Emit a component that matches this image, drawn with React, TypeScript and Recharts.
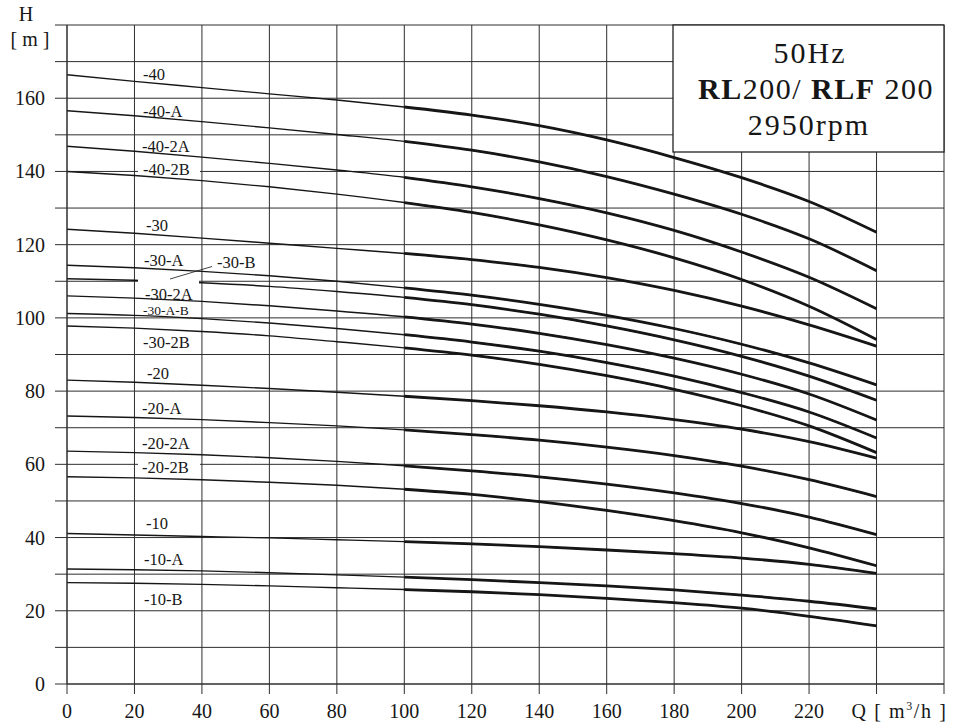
import React from "react";
import { LineChart, Line, XAxis, YAxis, CartesianGrid } from "recharts";

// flow Q [m3/h] and head H [m]
const flow = [0, 20, 40, 60, 80, 100, 120, 140, 160, 180, 200, 220, 240];

const h40 = [166.4, 164.6, 162.9, 161.2, 159.5, 157.6, 155.4, 152.5, 148.6, 143.8, 138.3, 131.8, 123.4];
const h40A = [156.6, 155.2, 153.6, 151.9, 150.1, 148.2, 145.8, 142.6, 138.6, 133.8, 128.3, 121.6, 112.9];
const h40_2A = [146.9, 145.5, 143.9, 142.2, 140.4, 138.4, 135.8, 132.6, 128.7, 123.9, 118.0, 111.1, 102.5];
const h40_2B = [140.0, 138.9, 137.5, 135.8, 133.8, 131.5, 128.8, 125.4, 121.3, 116.4, 110.5, 103.2, 94.1];
const h30 = [124.2, 123.1, 121.8, 120.4, 119.0, 117.6, 115.9, 113.8, 111.0, 107.5, 103.2, 98.1, 92.3];
const h30A = [114.4, 113.7, 112.7, 111.5, 110.0, 108.2, 106.2, 103.7, 100.7, 97.1, 92.8, 87.7, 81.7];
const h30B = [110.7, 110.3, 109.6, 108.6, 107.2, 105.6, 103.6, 101.0, 97.8, 94.0, 89.5, 84.1, 77.5];
const h30_2A = [106.0, 105.4, 104.5, 103.3, 101.9, 100.3, 98.3, 95.8, 92.7, 89.0, 84.6, 79.2, 72.1];
const h30AB = [101.2, 100.7, 99.8, 98.6, 97.1, 95.4, 93.4, 90.9, 87.8, 84.1, 79.6, 74.3, 67.2];
const h30_2B = [97.8, 97.2, 96.3, 95.1, 93.5, 91.8, 89.8, 87.3, 84.2, 80.5, 76.0, 70.5, 63.2];
const h20 = [83.0, 82.4, 81.6, 80.7, 79.7, 78.6, 77.4, 76.0, 74.3, 72.2, 69.6, 66.2, 61.7];
const h20A = [73.2, 72.8, 72.2, 71.4, 70.5, 69.4, 68.1, 66.6, 64.7, 62.4, 59.5, 55.8, 51.2];
const h20_2A = [63.6, 63.2, 62.6, 61.8, 60.8, 59.6, 58.2, 56.6, 54.6, 52.2, 49.3, 45.6, 40.8];
const h20_2B = [56.6, 56.3, 55.8, 55.1, 54.3, 53.2, 51.8, 49.8, 47.4, 44.6, 41.3, 37.2, 32.3];
const h10 = [41.1, 40.7, 40.3, 39.9, 39.4, 38.9, 38.3, 37.5, 36.6, 35.6, 34.4, 32.7, 30.2];
const h10A = [31.4, 31.2, 30.9, 30.4, 29.8, 29.2, 28.5, 27.7, 26.8, 25.7, 24.3, 22.6, 20.5];
const h10B = [27.7, 27.5, 27.2, 26.8, 26.3, 25.8, 25.2, 24.4, 23.4, 22.2, 20.7, 18.5, 15.9];

const curves = [
  { key: "c40", head: h40 },
  { key: "c40A", head: h40A },
  { key: "c40_2A", head: h40_2A },
  { key: "c40_2B", head: h40_2B },
  { key: "c30", head: h30 },
  { key: "c30A", head: h30A },
  { key: "c30B", head: h30B },
  { key: "c30_2A", head: h30_2A },
  { key: "c30AB", head: h30AB },
  { key: "c30_2B", head: h30_2B },
  { key: "c20", head: h20 },
  { key: "c20A", head: h20A },
  { key: "c20_2A", head: h20_2A },
  { key: "c20_2B", head: h20_2B },
  { key: "c10", head: h10 },
  { key: "c10A", head: h10A },
  { key: "c10B", head: h10B },
];

// the curves are drawn heavier over the working range
const workStart = 100;

const xTicks = [0, 20, 40, 60, 80, 100, 120, 140, 160, 180, 200, 220, 240, 260];
const yTicks = [0, 10, 20, 30, 40, 50, 60, 70, 80, 90, 100, 110, 120, 130, 140, 150, 160, 170, 180];

const rows = flow.map((q, i) => {
  const row: Record<string, number | null> = { q };
  curves.forEach((c) => {
    row[c.key] = c.head[i];
    row[c.key + "_w"] = q >= workStart ? c.head[i] : null;
  });
  return row;
});

const ink = "#161616";
const font = "'Liberation Serif', 'Times New Roman', serif";

const XTick = (props: any) => {
  const { x, y, payload } = props;
  const v = payload.value;
  if (v === 260) return <g />;
  if (v === 240) {
    return (
      <text x={x - 25} y={y + 22} fontSize={20} fill={ink} fontFamily={font} letterSpacing={1.6}>
        Q [ m<tspan dy={-8} fontSize={12}>3</tspan>
        <tspan dy={8}>/h ]</tspan>
      </text>
    );
  }
  return (
    <text x={x} y={y + 22} fontSize={20} fill={ink} textAnchor="middle" fontFamily={font}>
      {v}
    </text>
  );
};

const YTick = (props: any) => {
  const { x, y, payload } = props;
  const v = payload.value;
  if (v % 20 !== 0 || v > 160) return <g />;
  return (
    <text x={x - 8} y={y + 7} fontSize={20} fill={ink} textAnchor="end" fontFamily={font}>
      {v}
    </text>
  );
};

const curveLabels = [
  { text: "-40", x: 143, y: 80 },
  { text: "-40-A", x: 143, y: 116.5 },
  { text: "-40-2A", x: 142, y: 152 },
  { text: "-40-2B", x: 143, y: 175 },
  { text: "-30", x: 146, y: 231 },
  { text: "-30-A", x: 144, y: 266 },
  { text: "-30-B", x: 217, y: 267.5 },
  { text: "-30-2A", x: 145, y: 300 },
  { text: "-30-A-B", x: 143, y: 315, small: true },
  { text: "-30-2B", x: 143, y: 347.5 },
  { text: "-20", x: 147, y: 379 },
  { text: "-20-A", x: 142, y: 414 },
  { text: "-20-2A", x: 142, y: 448.5 },
  { text: "-20-2B", x: 142, y: 473 },
  { text: "-10", x: 146, y: 528.5 },
  { text: "-10-A", x: 144, y: 565 },
  { text: "-10-B", x: 144, y: 605 },
];

export default function App() {
  return (
    <div
      style={{
        position: "absolute",
        left: 0,
        top: 0,
        width: 956,
        height: 726,
        background: "#fff",
        fontFamily: font,
      }}
    >
      <LineChart width={956} height={726} data={rows} margin={{ top: 25, right: 12, bottom: 0, left: 0 }}>
        <CartesianGrid stroke="#2e2e2e" strokeWidth={1} />
        <XAxis
          dataKey="q"
          type="number"
          domain={[0, 260]}
          ticks={xTicks}
          interval={0}
          height={42}
          tickSize={10}
          tickLine={{ stroke: "#2e2e2e" }}
          axisLine={{ stroke: "#2e2e2e" }}
          tick={<XTick />}
        />
        <YAxis
          type="number"
          domain={[0, 180]}
          ticks={yTicks}
          interval={0}
          width={67}
          tickSize={12}
          tickLine={{ stroke: "#2e2e2e" }}
          axisLine={{ stroke: "#2e2e2e" }}
          tick={<YTick />}
        />
        {curves.map((c) => (
          <Line
            key={c.key}
            dataKey={c.key}
            type="monotone"
            stroke={ink}
            strokeWidth={1.4}
            dot={false}
            isAnimationActive={false}
          />
        ))}
        {curves.map((c) => (
          <Line
            key={c.key + "_w"}
            dataKey={c.key + "_w"}
            type="monotone"
            stroke={ink}
            strokeWidth={2.8}
            dot={false}
            isAnimationActive={false}
          />
        ))}
      </LineChart>
      <svg
        width={956}
        height={726}
        style={{ position: "absolute", left: 0, top: 0, pointerEvents: "none" }}
        fontFamily={font}
      >
        <text x={26} y={21} fontSize={20} fill={ink} textAnchor="middle">H</text>
        <text x={30} y={46} fontSize={20} fill={ink} textAnchor="middle">[ m ]</text>

        <rect x={138} y={162} width={62} height={13} fill="#fff" />
        <rect x={138} y={276} width={61} height={11} fill="#fff" />
        <rect x={138} y={458} width={62} height={14} fill="#fff" />

        <line x1={170} y1={279} x2={212} y2={266.5} stroke={ink} strokeWidth={0.8} />

        {curveLabels.map((l) => (
          <text
            key={l.text}
            x={l.x}
            y={l.y}
            fontSize={l.small ? 13.5 : 16.5}
            fill={ink}
          >
            {l.text}
          </text>
        ))}

        <rect x={673} y={25} width={271} height={127} fill="#fff" stroke="#222" strokeWidth={1.3} />
        <text x={810} y={63} fontSize={30} fill={ink} textAnchor="middle" letterSpacing={2}>50Hz</text>
        <text x={816} y={99} fontSize={30} fill={ink} textAnchor="middle" letterSpacing={1.5}>
          <tspan fontWeight="bold">RL</tspan>200/ <tspan fontWeight="bold">RLF</tspan> 200
        </text>
        <text x={809} y={135} fontSize={30} fill={ink} textAnchor="middle" letterSpacing={2}>2950rpm</text>
      </svg>
    </div>
  );
}
